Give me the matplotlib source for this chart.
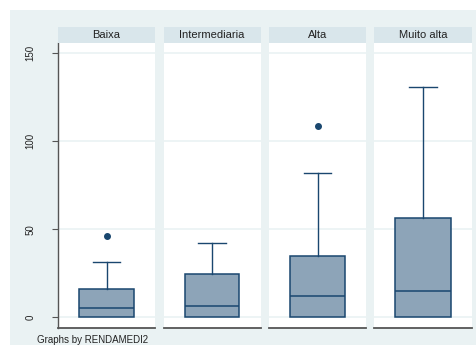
import matplotlib
matplotlib.use("Agg")
import matplotlib.pyplot as plt

# Box statistics per income group
groups = ["Baixa", "Intermediaria", "Alta", "Muito alta"]
q1 = [0, 0, 0, 0]
medians = [5.3, 6.2, 12.1, 15.0]
q3 = [16.3, 24.4, 34.7, 56.6]
whislo = [0, 0, 0, 0]
whishi = [31.2, 42.0, 82.0, 131.0]
outliers = [[46.2], [], [108.5], []]
yticks = [0, 50, 100, 150]
note = "Graphs by RENDAMEDI2"

W, H = 476, 345
fig = plt.figure(figsize=(W / 100, H / 100), dpi=100)
fig.patch.set_facecolor("white")
plt.rcParams["font.family"] = ["Liberation Sans", "DejaVu Sans"]

BG = "#EAF2F3"
STRIP = "#D9E6EB"
NAVY = "#1A476F"
FILL = "#8DA4B8"

def fx(x):
    return x / W

def fy(y):
    return 1 - y / H

# graph region background
bg = fig.add_axes([fx(10), 0, 1 - fx(10), fy(10)], zorder=-10)
bg.set_facecolor(BG)
bg.set_xticks([])
bg.set_yticks([])
for s in bg.spines.values():
    s.set_visible(False)

panel_x = [(58, 155), (163.5, 260.5), (268.7, 366.3), (374, 472)]
plot_top, plot_bot = 42.7, 327.7
strip_top = 26.7
ylo, yhi = -5.9, 156.0

for i, (x0, x1) in enumerate(panel_x):
    ax = fig.add_axes([fx(x0), fy(plot_bot), fx(x1 - x0), (plot_bot - plot_top) / H])
    ax.set_facecolor("white")
    ax.set_ylim(ylo, yhi)
    ax.set_xlim(0, 1)
    for t in yticks:
        ax.axhline(t, color=BG, lw=1.2, zorder=1)
    stats = [dict(med=medians[i], q1=q1[i], q3=q3[i], whislo=whislo[i],
                  whishi=whishi[i], fliers=outliers[i])]
    parts = ax.bxp(stats, positions=[0.5], widths=0.565, patch_artist=True,
                   boxprops=dict(facecolor=FILL, edgecolor=NAVY, linewidth=1.1),
                   medianprops=dict(color=NAVY, linewidth=1.1),
                   whiskerprops=dict(color=NAVY, linewidth=1.0),
                   capprops=dict(color=NAVY, linewidth=1.0),
                   flierprops=dict(marker="o", markerfacecolor=NAVY,
                                   markeredgecolor=NAVY, markersize=4),
                   capwidths=0.28, zorder=3)
    # lower whisker sits on the box bottom, so its cap is not drawn
    parts["caps"][0].set_visible(False)
    ax.set_xticks([])
    for s in ["top", "right"]:
        ax.spines[s].set_visible(False)
    ax.spines["bottom"].set_color("#555555")
    ax.spines["bottom"].set_linewidth(1.3)
    if i == 0:
        ax.spines["left"].set_color("#555555")
        ax.spines["left"].set_linewidth(1.0)
        ax.set_yticks(yticks)
        ax.set_yticklabels([str(t) for t in yticks], rotation=90, va="center",
                           fontsize=7, color="#222222")
        ax.tick_params(axis="y", length=4, width=0.8, color="#555555", pad=12)
    else:
        ax.spines["left"].set_visible(False)
        ax.set_yticks([])
    # header strip
    hx = fig.add_axes([fx(x0), fy(plot_top), fx(x1 - x0), (plot_top - strip_top) / H])
    hx.set_facecolor(STRIP)
    hx.set_xticks([])
    hx.set_yticks([])
    for s in hx.spines.values():
        s.set_visible(False)
    hx.text(0.5, 0.5, groups[i], ha="center", va="center", fontsize=8,
            color="#222222", transform=hx.transAxes)

fig.text(fx(37), fy(335), note, ha="left", va="top", fontsize=7, color="#222222")

fig.savefig("out.png", dpi=100, facecolor=fig.get_facecolor())
